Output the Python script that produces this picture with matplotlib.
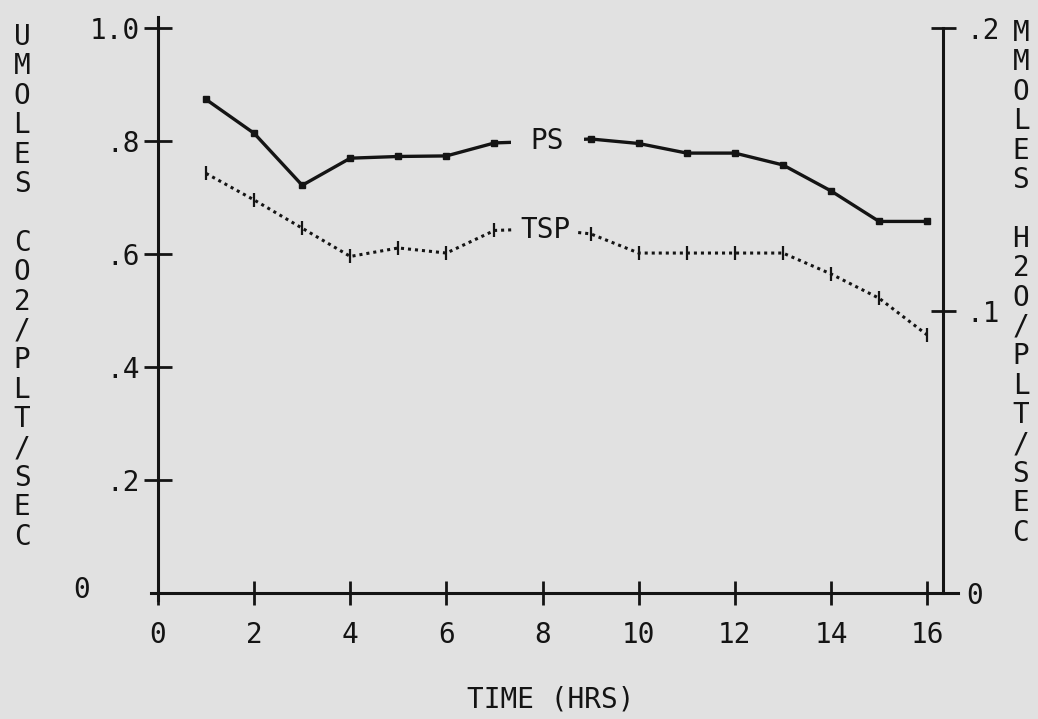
import matplotlib
matplotlib.use("Agg")
import matplotlib.pyplot as plt
import numpy as np

# values
hours = np.arange(1, 17)
ps = [0.874, 0.814, 0.722, 0.770, 0.773, 0.774, 0.797, 0.800,
      0.804, 0.796, 0.779, 0.779, 0.758, 0.712, 0.658, 0.658]
tsp = [0.743, 0.696, 0.646, 0.596, 0.611, 0.602, 0.642, 0.645,
       0.636, 0.602, 0.602, 0.602, 0.602, 0.565, 0.522, 0.457]

x_ticks = [0, 2, 4, 6, 8, 10, 12, 14, 16]
left_ticks = [0.2, 0.4, 0.6, 0.8, 1.0]
left_labels = [".2", ".4", ".6", ".8", "1.0"]
right_ticks = [0.0, 0.1, 0.2]
right_labels = ["0", ".1", ".2"]
left_title = "UMOLES CO2/PLT/SEC"
right_title = "MMOLES H2O/PLT/SEC"

bg = "#e1e1e1"
ink = "#141414"
font = "DejaVu Sans Mono"
fs = 20

plt.rcParams["font.family"] = font

fig = plt.figure(figsize=(10.38, 7.19), dpi=100, facecolor=bg)
W, H = 1038, 719
ax = fig.add_axes([158 / W, 1 - 593 / H, (943 - 158) / W, (593 - 17) / H])
ax.set_facecolor(bg)
ax.set_xlim(0, 16.33)
ax.set_ylim(0, 1.02)

for s in ["top", "right"]:
    ax.spines[s].set_visible(False)
for s in ["left", "bottom"]:
    ax.spines[s].set_linewidth(2.2)
    ax.spines[s].set_color(ink)
ax.spines["bottom"].set_bounds(-0.15, 16.64)
ax.spines["left"].set_bounds(-0.012, 1.02)

ax.set_xticks(x_ticks)
ax.set_xticklabels([str(v) for v in x_ticks])
ax.set_yticks(left_ticks)
ax.set_yticklabels(left_labels)
ax.tick_params(axis="x", direction="inout", length=17, width=2, color=ink,
               pad=12, labelsize=fs, labelcolor=ink)
ax.tick_params(axis="y", direction="inout", length=20, width=2, color=ink,
               pad=3, labelsize=fs, labelcolor=ink)

# left zero label sits further out on the original
ax.annotate("0", xy=(0, 0), xytext=(-55, 2), textcoords="offset points",
            ha="center", va="center", fontsize=fs, color=ink)

ax2 = ax.twinx()
ax2.set_ylim(0, 0.204)
for s in ["top", "left", "bottom"]:
    ax2.spines[s].set_visible(False)
ax2.spines["right"].set_linewidth(2.2)
ax2.spines["right"].set_color(ink)
ax2.spines["right"].set_bounds(0, 0.2)
ax2.set_yticks(right_ticks)
ax2.set_yticklabels(right_labels)
ax2.tick_params(axis="y", direction="inout", length=18, width=2, color=ink,
                pad=8, labelsize=fs, labelcolor=ink)

# series
ax.plot(hours, ps, color=ink, lw=2.4, marker="s", ms=5, zorder=3)
ax.plot(hours, tsp, color=ink, lw=2.2, linestyle=(0, (1, 1.3)),
        marker="|", ms=10, mew=1.6, zorder=3)

ax.text(8.1, 0.800, "PS", ha="center", va="center", fontsize=fs,
        color=ink, zorder=4, bbox=dict(facecolor=bg, edgecolor="none", pad=14))
ax.text(8.07, 0.642, "TSP", ha="center", va="center", fontsize=fs,
        color=ink, zorder=4, bbox=dict(facecolor=bg, edgecolor="none", pad=5))

ax.set_xlabel("TIME (HRS)", fontsize=fs, color=ink, labelpad=26)

# stacked upright axis titles
step = 29.4
for i, ch in enumerate(left_title):
    fig.text(22 / W, 1 - (37 + i * step) / H, ch, ha="center", va="center",
             fontsize=fs, color=ink)
for i, ch in enumerate(right_title):
    fig.text(1021 / W, 1 - (33 + i * step) / H, ch, ha="center", va="center",
             fontsize=fs, color=ink)

fig.savefig("out.png", dpi=100, facecolor=bg)
